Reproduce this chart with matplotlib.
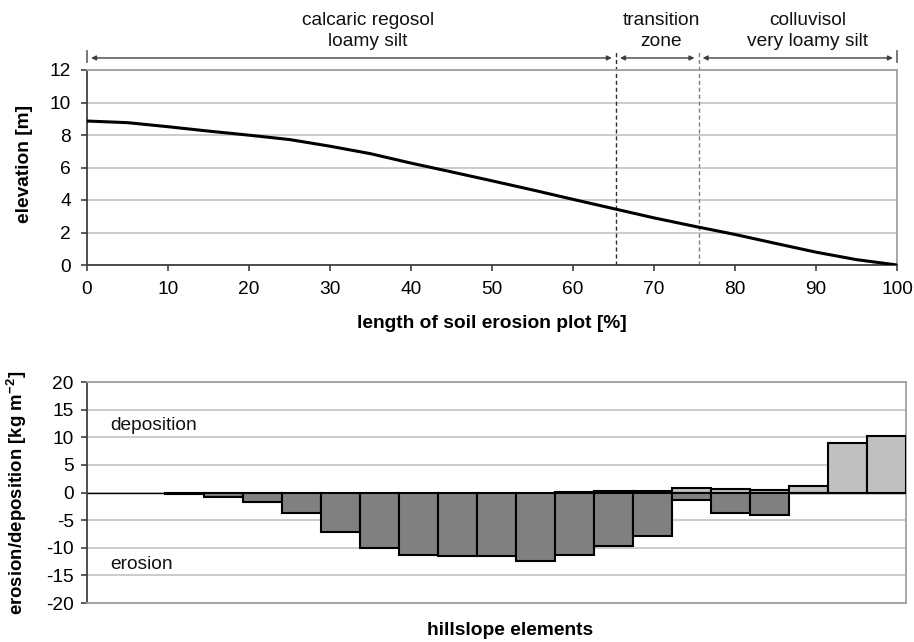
import numpy as np
import matplotlib
matplotlib.use("Agg")
import matplotlib.pyplot as plt

plt.rcParams['font.family'] = ['Liberation Sans', 'DejaVu Sans']
plt.rcParams['mathtext.fontset'] = 'custom'
plt.rcParams['mathtext.rm'] = 'Liberation Sans'
plt.rcParams['mathtext.bf'] = 'Liberation Sans:bold'
plt.rcParams['axes.unicode_minus'] = False

# elevation profile along the plot (% of length -> m)
profile_x = [0, 5, 10, 15, 20, 25, 30, 35, 40, 45, 50, 55, 60, 65, 70, 75, 80, 85, 90, 95, 100]
profile_z = [8.86, 8.76, 8.51, 8.24, 7.99, 7.72, 7.31, 6.85, 6.27, 5.73, 5.18, 4.62, 4.04, 3.47,
             2.90, 2.38, 1.88, 1.33, 0.79, 0.33, 0.0]

# soil zones along the plot
zone_bounds = [0, 65.3, 75.5, 100]
zone_labels = ['calcaric regosol\nloamy silt', 'transition\nzone', 'colluvisol\nvery loamy silt']
zone_label_x = [34.7, 70.9, 89.0]

# erosion / deposition per hillslope element [kg m-2]
elements = list(range(21))
erosion = [0, 0, -0.2, -0.8, -1.7, -3.8, -7.1, -10.0, -11.4, -11.5, -11.5, -12.4, -11.4,
           -9.7, -7.9, -1.3, -3.7, -4.1, -0.1, 0, 0]
deposition = [0, 0, 0, 0, 0, 0, 0, 0, 0, 0, 0, 0, 0.1, 0.3, 0.3, 0.9, 0.6, 0.5, 1.1, 8.9, 10.3]

fig = plt.figure(figsize=(9.14, 6.42), dpi=100)
FS = 13.8
grid_c = '#c8c8c8'
frame_c = '#a0a0a0'
axis_c = '#404040'

# ---- top: elevation profile ----
ax1 = fig.add_axes([87 / 914, 1 - 265 / 642, 810 / 914, 195 / 642])
ax1.plot(profile_x, profile_z, color='black', lw=2.2, zorder=3)
ax1.set_xlim(0, 100)
ax1.set_ylim(0, 12)
ax1.set_xticks(range(0, 101, 10))
ax1.set_yticks(range(0, 13, 2))
ax1.yaxis.grid(True, color=grid_c, lw=1.3)
ax1.set_axisbelow(True)
for s in ['top', 'right']:
    ax1.spines[s].set_color(frame_c)
    ax1.spines[s].set_linewidth(1.3)
for s in ['left', 'bottom']:
    ax1.spines[s].set_color(axis_c)
    ax1.spines[s].set_linewidth(1.3)
ax1.tick_params(direction='out', length=4.5, width=1.2, color=axis_c, labelsize=FS, pad=7)
ax1.set_xlabel('length of soil erosion plot [%]', fontsize=FS, fontweight='bold', labelpad=12)
ax1.set_ylabel('elevation [m]', fontsize=FS, fontweight='bold')
ax1.yaxis.set_label_coords(-0.067, 0.52)

# zone boundaries, arrows and labels
y_arrow = 12.74
for xb, c in zip(zone_bounds[1:-1], ['#303030', '#808080']):
    ax1.plot([xb, xb], [0, 13.2], ls=(0, (3, 2)), color=c, lw=1.0, clip_on=False, zorder=2)
for xb in [zone_bounds[0], zone_bounds[-1]]:
    ax1.plot([xb, xb], [12.5, 13.2], color='#606060', lw=1.2, clip_on=False)
for i in range(len(zone_labels)):
    x0 = zone_bounds[i] + 0.5
    x1 = zone_bounds[i + 1] - 0.5
    ax1.annotate('', xy=(x0, y_arrow), xytext=(x1, y_arrow), xycoords='data',
                 arrowprops=dict(arrowstyle='<|-|>', color='#404040', lw=1.0,
                                 mutation_scale=7, shrinkA=0, shrinkB=0),
                 annotation_clip=False)
    ax1.text(zone_label_x[i], 14.4, zone_labels[i], ha='center', va='center',
             fontsize=FS, linespacing=1.25, color='#111111')

# ---- bottom: erosion / deposition ----
ax2 = fig.add_axes([87 / 914, 1 - 603 / 642, 819 / 914, 221 / 642])
lw_d = [0 if v == 0 else 1.5 for v in deposition]
lw_e = [0 if v == 0 else 1.5 for v in erosion]
ax2.bar(elements, deposition, width=1.0, color='#c0c0c0', edgecolor='black', linewidth=lw_d, zorder=3)
ax2.bar(elements, erosion, width=1.0, color='#808080', edgecolor='black', linewidth=lw_e, zorder=3)
ax2.axhline(0, color='black', lw=1.0, zorder=2)
ax2.set_xlim(-0.5, 20.5)
ax2.set_ylim(-20, 20)
ax2.set_yticks(range(-20, 21, 5))
ax2.set_xticks([])
ax2.yaxis.grid(True, color=grid_c, lw=1.3)
ax2.set_axisbelow(True)
for s in ['top', 'right', 'bottom']:
    ax2.spines[s].set_color(frame_c)
    ax2.spines[s].set_linewidth(1.3)
ax2.spines['left'].set_color(axis_c)
ax2.spines['left'].set_linewidth(1.3)
ax2.tick_params(axis='y', direction='out', length=4.5, width=1.2, color=axis_c, labelsize=FS, pad=5)
ax2.set_xlabel('hillslope elements', fontsize=FS, fontweight='bold')
ax2.xaxis.set_label_coords(0.517, -0.085)
ax2.set_ylabel(r'erosion/deposition [kg m$^{\mathbf{-2}}$]', fontsize=FS * 0.97, fontweight='bold')
ax2.yaxis.set_label_coords(-0.071, 0.5)
ax2.text(0.028, 12.2, 'deposition', transform=ax2.get_yaxis_transform(), fontsize=FS,
         ha='left', va='center', color='#111111')
ax2.text(0.028, -13, 'erosion', transform=ax2.get_yaxis_transform(), fontsize=FS,
         ha='left', va='center', color='#111111')

fig.savefig('out.png', dpi=100)
